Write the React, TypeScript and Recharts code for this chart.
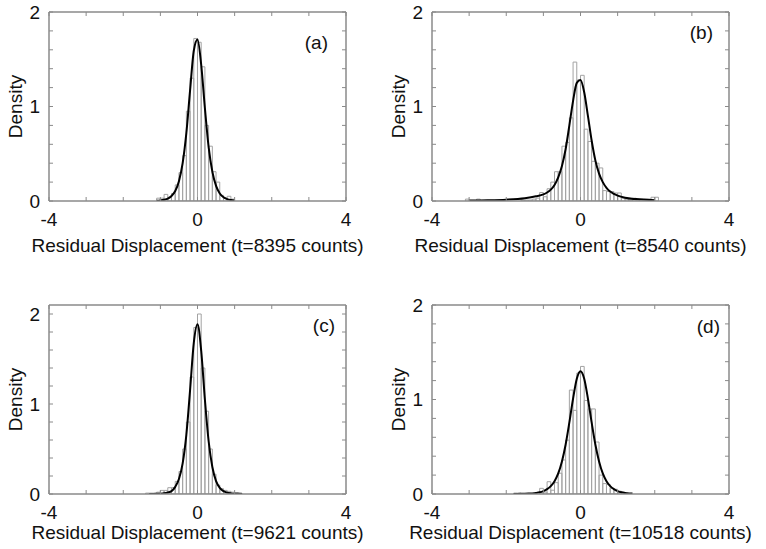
import React from 'react';
import { ComposedChart, Bar, Line, XAxis, YAxis } from 'recharts';

// ---------- data ----------
// Panel (a) t=8395
const binsA = [-1.05, -0.95, -0.85, -0.75, -0.65, -0.55, -0.45, -0.35, -0.25, -0.15, -0.05, 0.05, 0.15, 0.25, 0.35, 0.45, 0.55, 0.65, 0.75, 0.85, 0.95];
const histA = [0.03, 0.03, 0.07, 0.04, 0.08, 0.17, 0.3, 0.48, 0.95, 1.3, 1.72, 1.68, 1.42, 0.8, 0.58, 0.31, 0.2, 0.06, 0.03, 0.05, 0.02];
const fitXA = [-1.1, -1.0, -0.9, -0.8, -0.7, -0.6, -0.5, -0.4, -0.3, -0.2, -0.1, 0, 0.1, 0.2, 0.3, 0.4, 0.5, 0.6, 0.7, 0.8, 0.9, 1.0];
const fitYA = [0.003, 0.006, 0.013, 0.026, 0.053, 0.106, 0.21, 0.4, 0.72, 1.17, 1.59, 1.71, 1.44, 0.98, 0.57, 0.31, 0.16, 0.08, 0.04, 0.02, 0.01, 0.005];

// Panel (b) t=8540
const binsB = [-3.05, -2.75, -2.05, -1.55, -1.45, -1.35, -1.25, -1.15, -1.05, -0.95, -0.85, -0.75, -0.65, -0.55, -0.45, -0.35, -0.25, -0.15, -0.05, 0.05, 0.15, 0.25, 0.35, 0.45, 0.55, 0.65, 0.75, 0.85, 0.95, 1.05, 1.15, 1.25, 1.35, 1.45, 1.55, 1.95, 2.05];
const histB = [0.02, 0.02, 0.01, 0.01, 0.01, 0.01, 0.02, 0.03, 0.09, 0.045, 0.13, 0.2, 0.31, 0.31, 0.58, 0.62, 0.88, 1.47, 1.28, 1.33, 0.76, 0.63, 0.42, 0.4, 0.35, 0.11, 0.1, 0.1, 0.085, 0.085, 0.03, 0.02, 0.01, 0.03, 0.01, 0.04, 0.04];
const fitXB = [-3.0, -2.5, -2.0, -1.5, -1.2, -1.0, -0.9, -0.8, -0.7, -0.6, -0.5, -0.4, -0.3, -0.2, -0.1, 0, 0.1, 0.2, 0.3, 0.4, 0.5, 0.6, 0.7, 0.8, 0.9, 1.0, 1.2, 1.5, 2.0];
const fitYB = [0.004, 0.007, 0.014, 0.03, 0.05, 0.07, 0.09, 0.12, 0.17, 0.25, 0.37, 0.55, 0.8, 1.06, 1.25, 1.28, 1.15, 0.9, 0.64, 0.43, 0.29, 0.2, 0.14, 0.1, 0.075, 0.057, 0.035, 0.02, 0.008];

// Panel (c) t=9621
const binsC = [-1.35, -1.25, -1.15, -1.05, -0.95, -0.85, -0.75, -0.65, -0.55, -0.45, -0.35, -0.25, -0.15, -0.05, 0.05, 0.15, 0.25, 0.35, 0.45, 0.55, 0.65, 0.75, 0.85, 0.95, 1.05, 1.15];
const histC = [0.01, 0.01, 0.01, 0.02, 0.04, 0.04, 0.07, 0.07, 0.14, 0.25, 0.5, 0.8, 1.3, 1.85, 2.0, 1.4, 0.92, 0.5, 0.22, 0.1, 0.06, 0.04, 0.03, 0.02, 0.015, 0.01];
const fitXC = [-1.3, -1.2, -1.1, -1.0, -0.9, -0.8, -0.7, -0.6, -0.5, -0.4, -0.3, -0.2, -0.1, 0, 0.1, 0.2, 0.3, 0.4, 0.5, 0.6, 0.7, 0.8, 0.9, 1.0, 1.1, 1.2];
const fitYC = [0.0003, 0.0007, 0.0015, 0.0037, 0.008, 0.017, 0.032, 0.079, 0.166, 0.34, 0.66, 1.155, 1.68, 1.887, 1.59, 1.045, 0.586, 0.3, 0.144, 0.068, 0.032, 0.015, 0.007, 0.003, 0.0015, 0.0007];

// Panel (d) t=10518
const binsD = [-1.75, -1.65, -1.15, -1.05, -0.95, -0.85, -0.75, -0.65, -0.55, -0.45, -0.35, -0.25, -0.15, -0.05, 0.05, 0.15, 0.25, 0.35, 0.45, 0.55, 0.65, 0.75, 0.85, 0.95, 1.05, 1.15, 1.25];
const histD = [0.01, 0.01, 0.0, 0.06, 0.02, 0.13, 0.04, 0.12, 0.22, 0.36, 0.57, 1.1, 0.885, 1.28, 1.35, 0.99, 0.9, 0.9, 0.55, 0.2, 0.11, 0.1, 0.06, 0.05, 0.03, 0.02, 0.01];
const fitXD = [-1.8, -1.7, -1.6, -1.5, -1.4, -1.3, -1.2, -1.1, -1.0, -0.9, -0.8, -0.7, -0.6, -0.5, -0.4, -0.3, -0.2, -0.1, 0, 0.1, 0.2, 0.3, 0.4, 0.5, 0.6, 0.7, 0.8, 0.9, 1.0, 1.1, 1.2, 1.3, 1.4];
const fitYD = [0.0005, 0.0009, 0.0014, 0.0024, 0.004, 0.0066, 0.011, 0.018, 0.031, 0.051, 0.083, 0.136, 0.218, 0.345, 0.524, 0.757, 1.01, 1.22, 1.3, 1.22, 1.01, 0.757, 0.524, 0.345, 0.218, 0.136, 0.083, 0.051, 0.031, 0.018, 0.011, 0.0066, 0.004];

// ticks
const xTicks = [-4, -3, -2, -1, 0, 1, 2, 3, 4];
const xLabelValues = [-4, 0, 4];
const yTicks = [0, 0.2, 0.4, 0.6, 0.8, 1, 1.2, 1.4, 1.6, 1.8, 2];
const yLabelValues = [0, 1, 2];

const titles = [
  'Residual Displacement (t=8395 counts)',
  'Residual Displacement (t=8540 counts)',
  'Residual Displacement (t=9621 counts)',
  'Residual Displacement (t=10518 counts)',
];
const tags = ['(a)', '(b)', '(c)', '(d)'];

// ---------- styling / layout ----------
const FONT = '"Liberation Sans", Arial, Helvetica, sans-serif';
const AXIS_COLOR = '#8a8a8a';
const BAR_COLOR = '#a3a3a3';
const TEXT_COLOR = '#111';
const FS = 19;
const CHART_W = 383;
const PLOT_W = 297;
const PLOT_H = 189;
const Y_AXIS_W = 49;
const X_AXIS_H = 55;
const BIN_PX = PLOT_W / 80;

const NoTick = () => null;
const fmtX = (v: number) => (xLabelValues.includes(v) ? String(v) : '');
const fmtY = (v: number) => (yLabelValues.includes(v) ? String(v) : '');

const AxisTitle = (props: any) => {
  const vb = props.viewBox || { x: 0, y: 0, width: 0, height: 0 };
  return (
    <text x={vb.x + vb.width / 2} y={vb.y + props.offsetY} textAnchor="middle" dominantBaseline="central"
      fontSize={FS} fontFamily={FONT} fill={TEXT_COLOR}>{props.text}</text>
  );
};

const DensityLabel = (props: any) => {
  const vb = props.viewBox || { x: 0, y: 0, width: 0, height: 0 };
  const cx = vb.x + 15;
  const cy = vb.y + vb.height / 2;
  return (
    <text x={cx} y={cy} transform={`rotate(-90, ${cx}, ${cy})`} textAnchor="middle" dominantBaseline="central"
      fontSize={FS} fontFamily={FONT} fill={TEXT_COLOR}>Density</text>
  );
};

const TagLabel = (props: any) => {
  const vb = props.viewBox || { x: 0, y: 0, width: 0, height: 0 };
  return (
    <text x={vb.x + vb.width - props.fromRight} y={vb.y + vb.height + props.fromTop} textAnchor="end" dominantBaseline="central"
      fontSize={FS} fontFamily={FONT} fill={TEXT_COLOR}>{props.text}</text>
  );
};

type PanelProps = {
  bins: number[]; hist: number[]; fitX: number[]; fitY: number[];
  title: string; tag: string; yMax: number;
  left: number; top: number; marginTop: number;
  titleY: number; tagRight: number; tagTop: number;
};

function Panel(p: PanelProps) {
  const data = p.bins.map((x, i) => ({ x, h: p.hist[i] }));
  const fit = p.fitX.map((x, i) => ({ x, f: p.fitY[i] }));
  const height = p.marginTop + PLOT_H + X_AXIS_H;
  return (
    <div style={{ position: 'absolute', left: p.left, top: p.top }}>
      <ComposedChart
        width={CHART_W}
        height={height}
        data={data}
        margin={{ top: p.marginTop - 1, right: CHART_W - Y_AXIS_W - PLOT_W - 1, bottom: 0, left: 0 }}
        barCategoryGap={0}
        barGap={0}
      >
        <XAxis
          xAxisId="main" dataKey="x" type="number" domain={[-4, 4]} allowDataOverflow
          ticks={xTicks} interval={0} tickFormatter={fmtX} tickSize={-4} tickMargin={16}
          tickLine={{ stroke: AXIS_COLOR, strokeWidth: 1 }}
          height={X_AXIS_H} axisLine={{ stroke: AXIS_COLOR, strokeWidth: 1.5 }}
          tick={{ fill: TEXT_COLOR, fontSize: FS, fontFamily: FONT }}
          label={<AxisTitle text={p.title} offsetY={p.titleY} />}
        />
        <XAxis
          xAxisId="top" orientation="top" dataKey="x" type="number" domain={[-4, 4]} allowDataOverflow
          ticks={xTicks} interval={0} tickSize={-4} height={1}
          axisLine={{ stroke: AXIS_COLOR, strokeWidth: 1.5 }}
          tickLine={{ stroke: AXIS_COLOR, strokeWidth: 1 }} tick={NoTick}
          label={<TagLabel text={p.tag} fromRight={p.tagRight} fromTop={p.tagTop} />}
        />
        <XAxis xAxisId="zfit" orientation="top" dataKey="x" type="number" domain={[-4, 4]} allowDataOverflow hide height={1} />
        <YAxis
          yAxisId="y" type="number" domain={[0, p.yMax]} allowDataOverflow width={Y_AXIS_W}
          ticks={yTicks} interval={0} tickFormatter={fmtY} tickSize={-4} tickMargin={13}
          tickLine={{ stroke: AXIS_COLOR, strokeWidth: 1 }}
          axisLine={{ stroke: AXIS_COLOR, strokeWidth: 1.5 }}
          tick={{ fill: TEXT_COLOR, fontSize: FS, fontFamily: FONT }}
          label={<DensityLabel />}
        />
        <YAxis
          yAxisId="yr" orientation="right" type="number" domain={[0, p.yMax]} allowDataOverflow width={1}
          ticks={yTicks} interval={0} tickSize={-4}
          axisLine={{ stroke: AXIS_COLOR, strokeWidth: 1.5 }}
          tickLine={{ stroke: AXIS_COLOR, strokeWidth: 1 }} tick={NoTick}
        />
        <Bar
          xAxisId="main" yAxisId="y" dataKey="h" barSize={BIN_PX - 0.02}
          fill="none" stroke={BAR_COLOR} strokeWidth={1} isAnimationActive={false}
        />
        <Line
          xAxisId="zfit" yAxisId="y" data={fit} dataKey="f" type="monotone"
          stroke="#000" strokeWidth={2} dot={false} activeDot={false} isAnimationActive={false}
        />
      </ComposedChart>
    </div>
  );
}

export default function App() {
  return (
    <div style={{ position: 'absolute', left: 0, top: 0, width: 766, height: 549, background: '#fff', overflow: 'hidden', fontFamily: FONT }}>
      <Panel bins={binsA} hist={histA} fitX={fitXA} fitY={fitYA} title={titles[0]} tag={tags[0]}
        yMax={2} left={0} top={0} marginTop={12} titleY={44} tagRight={18} tagTop={30} />
      <Panel bins={binsB} hist={histB} fitX={fitXB} fitY={fitYB} title={titles[1]} tag={tags[1]}
        yMax={2} left={383} top={0} marginTop={12} titleY={44} tagRight={16} tagTop={20} />
      <Panel bins={binsC} hist={histC} fitX={fitXC} fitY={fitYC} title={titles[2]} tag={tags[2]}
        yMax={2.1} left={0} top={275} marginTop={30} titleY={38} tagRight={11} tagTop={20} />
      <Panel bins={binsD} hist={histD} fitX={fitXD} fitY={fitYD} title={titles[3]} tag={tags[3]}
        yMax={2} left={383} top={275} marginTop={30} titleY={38} tagRight={9} tagTop={21} />
    </div>
  );
}
